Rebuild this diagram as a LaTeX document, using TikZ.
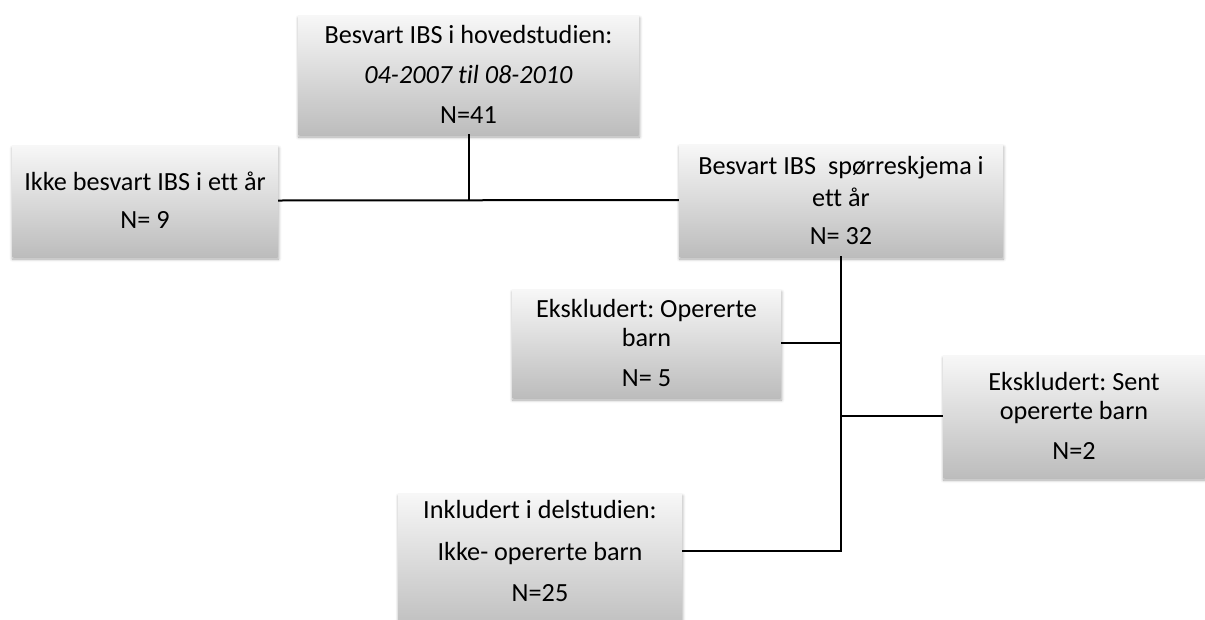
\documentclass[tikz,border=0pt]{standalone}
\usepackage{fontspec}
\setmainfont{Carlito}[Ligatures=NoCommon]
\usetikzlibrary{shadows.blur}
\frenchspacing
\begin{document}
\begin{tikzpicture}[x=1pt,y=-1pt,
  box/.style={rectangle, draw=none, top color=white!97!black, bottom color=black!26,
    blur shadow={shadow xshift=0.5pt, shadow yshift=-3pt, shadow blur steps=6, shadow blur radius=3pt, shadow opacity=35},
    inner sep=0pt, align=center, font=\fontsize{26.2}{29}\selectfont},
  txt/.style={align=center, inner sep=0pt, font=\fontsize{26.2}{29}\selectfont},
  conn/.style={line width=2pt, black}]
\useasboundingbox (0,0) rectangle (1205,619);

\node[box, minimum width=341pt, minimum height=119pt] (top) at (468.5,74.5)
  {Besvart IBS i hovedstudien:\\[11pt]\textit{04-2007 til 08-2010}\\[11pt]N=41};
\node[box, minimum width=266pt, minimum height=111pt] (left) at (145,200.5)
  {Ikke besvart IBS i ett år\\[9pt]N= 9};
\node[box, minimum width=324pt, minimum height=112pt] (right) at (841,200)
  {Besvart IBS\ \ spørreskjema i\\[3pt]ett år\\[9pt]N= 32};
\node[box, minimum width=269pt, minimum height=108pt] (oper) at (646.5,343)
  {Ekskludert: Opererte\\barn\\[11pt]N= 5};
\node[box, minimum width=262pt, minimum height=122pt] (sent) at (1074,416)
  {Ekskludert: Sent\\opererte barn\\[11pt]N=2};
\node[box, minimum width=284pt, minimum height=140pt] (ink) at (540,563) {};
\node[txt] (inktext) at (540,551)
  {Inkludert i delstudien:\\[13pt]Ikke- opererte barn\\[12pt]N=25};

\coordinate (jink) at (841,551);
\draw[conn] (top.south) -- (top.south |- left.east);
\draw[conn] (left.east) -- (right.west);
\draw[conn] (right.south) -- (jink) -- (jink -| ink.east);
\draw[conn] (oper.east) -- (oper.east -| right.south);
\draw[conn] (sent.west) -- (sent.west -| right.south);
\end{tikzpicture}
\end{document}
